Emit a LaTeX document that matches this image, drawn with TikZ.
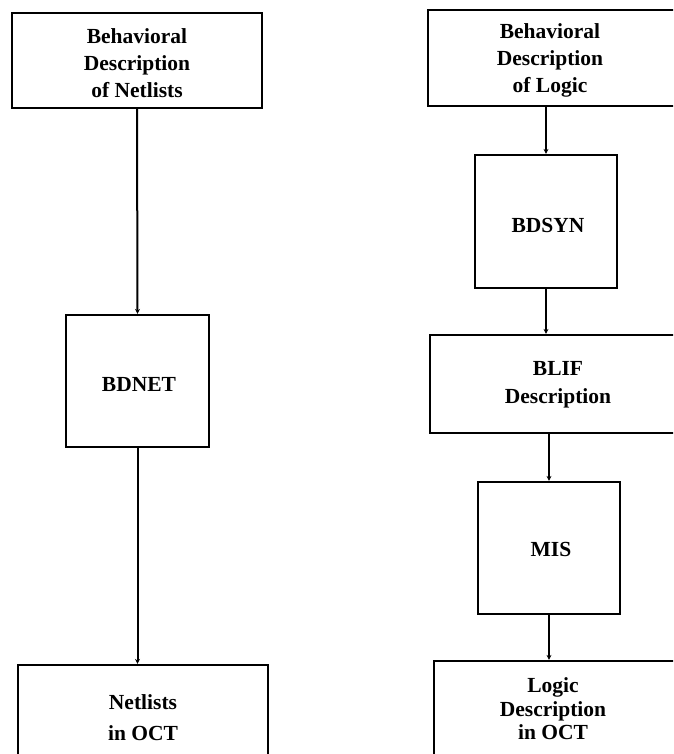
\documentclass[tikz,border=0pt]{standalone}
\usepackage{fontspec}
\setmainfont{Liberation Serif}
\usetikzlibrary{arrows.meta}
\begin{document}
\begin{tikzpicture}[x=1pt,y=-1pt,
  box/.style={draw, line width=2.2pt, rectangle, inner sep=0pt},
  lbl/.style={font=\fontsize{21.5}{27}\selectfont\bfseries, align=center, inner sep=0pt},
  flow/.style={line width=2pt, -{Stealth[length=5pt,width=5pt]}}]
\useasboundingbox (0,0) rectangle (673,754);
\clip (0,0) rectangle (673,754);

% netlist flow (left column)
\node[box, minimum width=250pt, minimum height=95pt] (bdn) at (137,60.5) {};
\node[lbl] (bdnT) at (137,63) {Behavioral\\Description\\of Netlists};
\node[box, minimum width=143pt, minimum height=132pt] (bdnet) at (137.5,381) {};
\node[lbl] (bdnetT) at (139,384) {BDNET};
\node[box, minimum width=250pt, minimum height=110pt] (nout) at (143,720) {};
\node[lbl, font=\fontsize{21.5}{31}\selectfont\bfseries] (noutT) at (143,718) {Netlists\\in OCT};

% logic flow (right column)
\node[box, minimum width=272pt, minimum height=96pt] (bdl) at (564,58) {};
\node[lbl] (bdlT) at (550,60) {Behavioral\\Description\\of Logic};
\node[box, minimum width=142pt, minimum height=133pt] (bdsyn) at (546,221.5) {};
\node[lbl] (bdsynT) at (548,225) {BDSYN};
\node[box, minimum width=270pt, minimum height=98pt] (blif) at (565,384) {};
\node[lbl, font=\fontsize{21.5}{28}\selectfont\bfseries] (blifT) at (558,385) {BLIF\\Description};
\node[box, minimum width=142pt, minimum height=132pt] (mis) at (549,548) {};
\node[lbl] (misT) at (551,549) {MIS};
\node[box, minimum width=266pt, minimum height=100pt] (lout) at (567,711) {};
\node[lbl, font=\fontsize{21.5}{23.5}\selectfont\bfseries] (loutT) at (553,709) {Logic\\Description\\in OCT};

% connectors
\draw[flow] (bdn.south) -- (bdnet.north);
\draw[flow] (bdnet.south) -- (bdnet.south |- nout.north);
\draw[flow] (bdsyn.north |- bdl.south) -- (bdsyn.north);
\draw[flow] (bdsyn.south) -- (bdsyn.south |- blif.north);
\draw[flow] (mis.north |- blif.south) -- (mis.north);
\draw[flow] (mis.south) -- (mis.south |- lout.north);
\end{tikzpicture}
\end{document}
